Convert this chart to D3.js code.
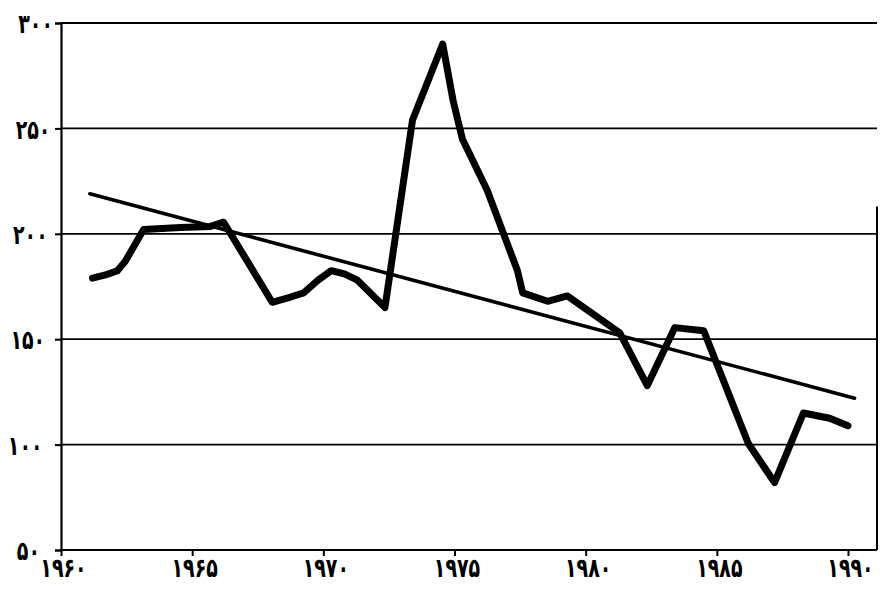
<!DOCTYPE html>
<html>
<head>
<meta charset="utf-8">
<script src="https://cdn.jsdelivr.net/npm/d3@7"></script>
<style>
  html, body { margin: 0; padding: 0; background: #fff; }
  svg { display: block; }
  .lbl { font-family: "DejaVu Sans", sans-serif; font-weight: bold; fill: #000; }
</style>
</head>
<body>
<svg id="chart" width="880" height="593"></svg>
<script>
// ---- data ----
const years  = [1961.2, 1961.7, 1962.15, 1962.45, 1963.15, 1964.55, 1965.7, 1966.2,
                1968.05, 1968.75, 1969.25, 1969.8, 1970.3, 1970.8, 1971.3, 1972.35,
                1973.4, 1974.55, 1974.95, 1975.3, 1976.25, 1977.4, 1977.6, 1978.55,
                1979.3, 1981.3, 1982.35, 1983.4, 1984.5, 1986.2, 1987.2, 1988.3,
                1989.3, 1990];
const values = [179, 180.5, 182.5, 187, 202, 203, 203.5, 205.5,
                167.5, 170, 172, 178, 182.5, 181, 178, 165,
                254, 290, 263, 245, 220.5, 182.5, 172, 168,
                170.5, 153, 128, 155.5, 154, 100.5, 82, 115,
                112.5, 109];
const trendYears  = [1961.1, 1990.25];
const trendValues = [219, 122];
const xTicks = [1960, 1965, 1970, 1975, 1980, 1985, 1990];
const xTickLabels = ["۱۹۶۰", "۱۹۶۵", "۱۹۷۰", "۱۹۷۵", "۱۹۸۰", "۱۹۸۵", "۱۹۹۰"];
const yTicks = [50, 100, 150, 200, 250, 300];
const yTickLabels = ["۵۰", "۱۰۰", "۱۵۰", "۲۰۰", "۲۵۰", "۳۰۰"];

// ---- layout ----
const svg = d3.select("#chart");
const x = d3.scaleLinear().domain([1960, 1990]).range([61, 848]);
const y = d3.scaleLinear().domain([50, 300]).range([550, 23]);
const rightEdge = 877;
const sx = 0.95, sy = 1.35, fs = 20;

// gridlines
svg.append("g").selectAll("line")
  .data(yTicks.filter(d => d > 50))
  .join("line")
  .attr("x1", x(1960)).attr("x2", rightEdge)
  .attr("y1", d => y(d)).attr("y2", d => y(d))
  .attr("stroke", "#000").attr("stroke-width", 1.8);

// y axis
const yAxis = d3.axisLeft(y).tickValues(yTicks)
  .tickFormat((d, i) => yTickLabels[i]).tickSize(6).tickPadding(7);
const gy = svg.append("g").attr("transform", `translate(${x(1960)},0)`).call(yAxis);
gy.attr("font-family", null).attr("font-size", null);
gy.select(".domain").attr("stroke", "#000").attr("stroke-width", 2.2);
gy.selectAll(".tick line").attr("stroke", "#000").attr("stroke-width", 2);
gy.selectAll(".tick text").attr("class", "lbl").attr("font-size", fs)
  .attr("x", d => -(8 + (300 - d) / 250 * 13) / sx)
  .attr("dy", "0.36em")
  .attr("transform", `scale(${sx},${sy})`);

// x axis
const xAxis = d3.axisBottom(x).tickValues(xTicks)
  .tickFormat((d, i) => xTickLabels[i]).tickSize(6).tickSizeOuter(0).tickPadding(7);
const gx = svg.append("g").attr("transform", `translate(0,${y(50)})`).call(xAxis);
gx.attr("font-family", null).attr("font-size", null);
gx.select(".domain").attr("d", `M${x(1960)},0H${rightEdge}`)
  .attr("stroke", "#000").attr("stroke-width", 2.2);
gx.selectAll(".tick line").attr("stroke", "#000").attr("stroke-width", 2);
gx.selectAll(".tick text").attr("class", "lbl").attr("font-size", fs)
  .attr("x", 2 / sx)
  .attr("y", 6).attr("dy", "0.71em")
  .attr("transform", `scale(${sx},${sy})`);

// right border (partial, as in the scan)
svg.append("line")
  .attr("x1", rightEdge).attr("x2", rightEdge)
  .attr("y1", y(213)).attr("y2", y(50))
  .attr("stroke", "#000").attr("stroke-width", 2);

// trend line
const line = d3.line().x(d => x(d[0])).y(d => y(d[1]));
svg.append("path")
  .datum(d3.zip(trendYears, trendValues))
  .attr("d", line)
  .attr("fill", "none").attr("stroke", "#000").attr("stroke-width", 3.6)
  .attr("stroke-linecap", "round");

// data line
svg.append("path")
  .datum(d3.zip(years, values))
  .attr("d", line)
  .attr("fill", "none").attr("stroke", "#000").attr("stroke-width", 7)
  .attr("stroke-linejoin", "round").attr("stroke-linecap", "round");
</script>
</body>
</html>
